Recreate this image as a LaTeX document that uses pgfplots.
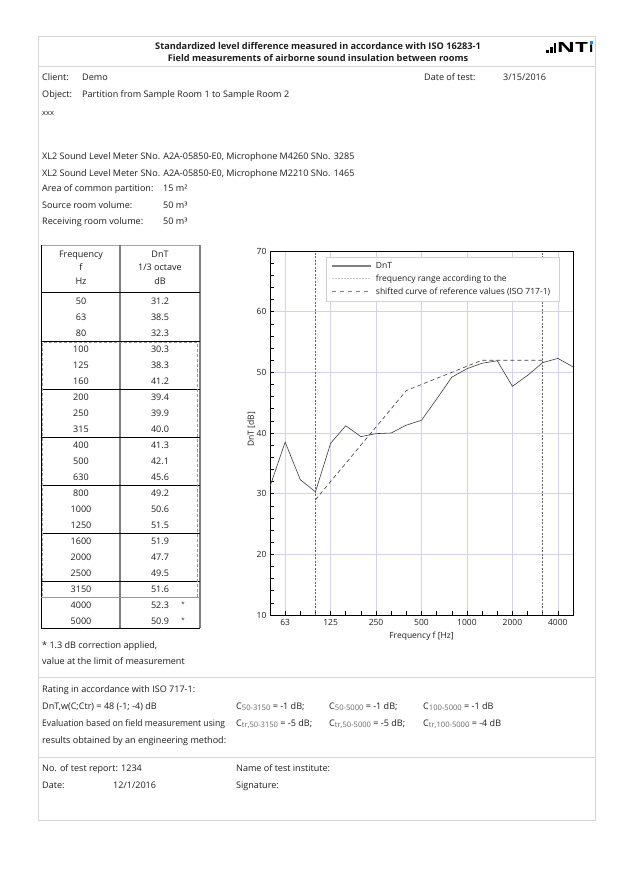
\documentclass[border=0pt]{standalone}
\usepackage{pgfplots}
\pgfplotsset{compat=1.18}
\usepackage{fontspec}
\setmainfont{Open Sans}
\definecolor{txt}{HTML}{1E1E1E}
\definecolor{gridc}{HTML}{D2D2EC}
\definecolor{framec}{HTML}{D6D6D6}
\definecolor{lineg}{HTML}{3C3C3C}
\definecolor{nti}{HTML}{1E88E5}
\newcommand{\tbf}{\fontsize{9.2}{11}\selectfont\bfseries}
\newcommand{\trm}{\fontsize{9.05}{11}\selectfont}
\newcommand{\crm}{\fontsize{8.5}{10}\selectfont}
\newcommand{\sub}[1]{\raisebox{-1.7pt}{\fontsize{7.6}{8}\selectfont\color{black!60}#1}}
\begin{document}
\begin{tikzpicture}
\fill[white] (0pt,0pt) rectangle (632pt,-896pt);
\begin{scope}[x=1pt,y=-1pt,every node/.style={inner sep=0pt,text=txt,font=\trm,anchor=base west}]
% page frame
\draw[framec,line width=1pt] (38,37) rectangle (595,820);
\draw[framec,line width=0.8pt] (38,66) -- (595,66);
\draw[framec,line width=0.8pt] (38,677) -- (595,677);
\draw[framec,line width=0.8pt] (38,757) -- (595,757);
% title
\node[anchor=base,font=\tbf] at (318,49.5) {Standardized level difference measured in accordance with ISO 16283-1};
\node[anchor=base,font=\tbf] at (318,61.5) {Field measurements of airborne sound insulation between rooms};
% logo
\fill[black] (545.5,50) rectangle (548.5,53);
\fill[black] (550,47) rectangle (552.5,53);
\fill[black] (553.8,43.5) rectangle (556.3,53);
\node[font=\fontsize{14}{14}\selectfont\bfseries,text=black,anchor=base east] (ii) at (593.5,53) {\char"0131};
\node[font=\fontsize{14}{14}\selectfont\bfseries,text=black,anchor=base east] (nt) at ([xshift=-0.5pt]ii.base west) {\scalebox{1.6}[1]{NT}};
\fill[nti] ([xshift=-1.5pt,yshift=1.2pt]ii.north) rectangle ([xshift=1.5pt,yshift=4.2pt]ii.north);
% header info
\node at (42,81) {Client:};
\node at (82,81) {Demo};
\node at (424,81) {Date of test:};
\node at (503,81) {3/15/2016};
\node at (42,98) {Object:};
\node at (82,98) {Partition from Sample Room 1 to Sample Room 2};
\node[font=\fontsize{7.5}{8}\selectfont] at (42,116) {xxx};
\node at (42,160) {XL2 Sound Level Meter SNo. A2A-05850-E0, Microphone M4260 SNo. 3285};
\node at (42,176) {XL2 Sound Level Meter SNo. A2A-05850-E0, Microphone M2210 SNo. 1465};
\node at (42,192) {Area of common partition:};
\node at (163,192) {15 m²};
\node at (42,208) {Source room volume:};
\node at (163,208) {50 m³};
\node at (42,224) {Receiving room volume:};
\node at (163,224) {50 m³};
% table frame
\draw[black!35,line width=0.8pt] (41,245) -- (200,245);
\draw[black,line width=0.7pt] (41,245) -- (41,628);
\draw[black!50,line width=1.2pt] (120,245) -- (120,628);
\draw[black!50,line width=1.2pt] (200,245) -- (200,628);
\draw[black,line width=0.7pt] (41,292.5) -- (200,292.5);
\foreach \yy in {341.5,389.5,437.5,485.5,533.5,581.5} {\draw[black,line width=0.7pt] (41,\yy) -- (200,\yy);}
\draw[black,line width=0.7pt] (41,628) -- (200,628);
\draw[black!40,line width=0.8pt,dash pattern=on 3pt off 2pt] (42.5,342.5) -- (42.5,597.5) -- (197,597.5) -- (197,342.5) -- cycle;
\draw[black!40,line width=0.8pt,dash pattern=on 3pt off 2pt] (41,597.5) -- (200,597.5);
% table header
\node[anchor=base] at (81,257) {Frequency};
\node[anchor=base] at (81,270.5) {f};
\node[anchor=base] at (81,284) {Hz};
\node[anchor=base] at (160,257) {DnT};
\node[anchor=base] at (160,270.5) {1/3 octave};
\node[anchor=base] at (160,284) {dB};
% table rows
\foreach \f [count=\i from 0] in {50,63,80,100,125,160,200,250,315,400,500,630,800,1000,1250,1600,2000,2500,3150,4000,5000}
  {\node[anchor=base] at (81,304.5+16*\i) {\f};}
\foreach \v [count=\i from 0] in {31.2,38.5,32.3,30.3,38.3,41.2,39.4,39.9,40.0,41.3,42.1,45.6,49.2,50.6,51.5,51.9,47.7,49.5,51.6,52.3,50.9}
  {\node[anchor=base] at (160,304.5+16*\i) {\v};}
\node[anchor=base,font=\fontsize{6}{6}\selectfont] at (183,606) {*};
\node[anchor=base,font=\fontsize{6}{6}\selectfont] at (183,622) {*};
\node at (42,648) {* 1.3 dB correction applied,};
\node at (42,664) {value at the limit of measurement};
% rating
\node at (42,692) {Rating in accordance with ISO 717-1:};
\node at (42,709) {DnT,w(C;Ctr) = 48 (-1; -4) dB};
\node at (42,726) {\scalebox{0.95}[1]{Evaluation based on field measurement using}};
\node at (42,743) {results obtained by an engineering method:};
\node at (236,709) {C\sub{50-3150} = -1 dB;};
\node at (329,709) {C\sub{50-5000} = -1 dB;};
\node at (423,709) {C\sub{100-5000} = -1 dB};
\node at (236,726) {C\sub{tr,50-3150} = -5 dB;};
\node at (329,726) {C\sub{tr,50-5000} = -5 dB;};
\node at (423,726) {C\sub{tr,100-5000} = -4 dB};
% footer
\node at (42,771) {No. of test report:};
\node at (121,771) {1234};
\node at (42,788) {Date:};
\node at (113,788) {12/1/2016};
\node at (236,771) {Name of test institute:};
\node at (236,788) {Signature:};
\end{scope}
\begin{axis}[
  at={(270pt,-615pt)}, anchor=south west,
  scale only axis, width=303pt, height=364pt,
  xmin=0, xmax=20, ymin=10, ymax=70,
  xtick={1,4,7,10,13,16,19},
  xticklabels={63,125,250,500,1000,2000,4000},
  minor xtick={2,3,5,6,8,9,11,12,14,15,17,18},
  ytick={10,20,30,40,50,60,70},
  minor ytick={12,14,16,18,22,24,26,28,32,34,36,38,42,44,46,48,52,54,56,58,62,64,66,68},
  xtick pos=lower, ytick pos=left,
  tick align=inside,
  major tick length=4pt, minor tick length=4pt,
  every tick/.style={black,line width=0.6pt},
  xmajorgrids, ymajorgrids,
  grid style={gridc,line width=0.6pt},
  axis line style={black,line width=0.8pt},
  /pgf/number format/assume math mode=true,
  tick label style={font=\crm,text=txt},
  xticklabel style={yshift=-1pt},
  xlabel={Frequency f [Hz]},
  ylabel={DnT [dB]},
  label style={font=\crm,text=txt},
  xlabel style={at={(axis description cs:0.5,-0.058)},anchor=center},
  ylabel style={at={(axis description cs:-0.062,0.51)},anchor=center},
  legend style={at={(axis description cs:0.185,0.9835)},anchor=north west,
    draw=black!18,fill=white,font=\crm,text=txt,inner xsep=5.5pt,inner ysep=3pt,
    row sep=1pt,legend cell align=left,
    nodes={inner xsep=4pt}},
  legend image code/.code={\draw[#1] (0pt,0pt) -- (39pt,0pt);},
]
\addlegendimage{black!50,line width=1.2pt}
\addlegendentry{DnT}
\addlegendimage{black!22,line width=1pt,dash pattern=on 2pt off 1pt}
\addlegendentry{frequency range according to the}
\addlegendimage{black!50,line width=1.2pt,dash pattern=on 4pt off 4pt}
\addlegendentry{shifted curve of reference values (ISO 717-1)}
% frequency range limits
\addplot[forget plot,black!60,line width=0.5pt,dash pattern=on 2pt off 1.5pt] coordinates {(3,10) (3,70)};
\addplot[forget plot,black!60,line width=0.5pt,dash pattern=on 2pt off 1.5pt] coordinates {(18,10) (18,70)};
% shifted reference curve
\addplot[forget plot,lineg,line width=0.6pt,dash pattern=on 4pt off 3pt] coordinates {
(3,29) (4,32) (5,35) (6,38) (7,41) (8,44) (9,47) (10,48) (11,49) (12,50) (13,51) (14,52) (15,52) (16,52) (17,52) (18,52)};
% DnT
\addplot[forget plot,lineg,line width=0.6pt] coordinates {
(0,31.2) (1,38.5) (2,32.3) (3,30.3) (4,38.3) (5,41.2) (6,39.4) (7,39.9) (8,40.0) (9,41.3) (10,42.1) (11,45.6) (12,49.2) (13,50.6) (14,51.5) (15,51.9) (16,47.7) (17,49.5) (18,51.6) (19,52.3) (20,50.9)};
\end{axis}
\end{tikzpicture}
\end{document}
